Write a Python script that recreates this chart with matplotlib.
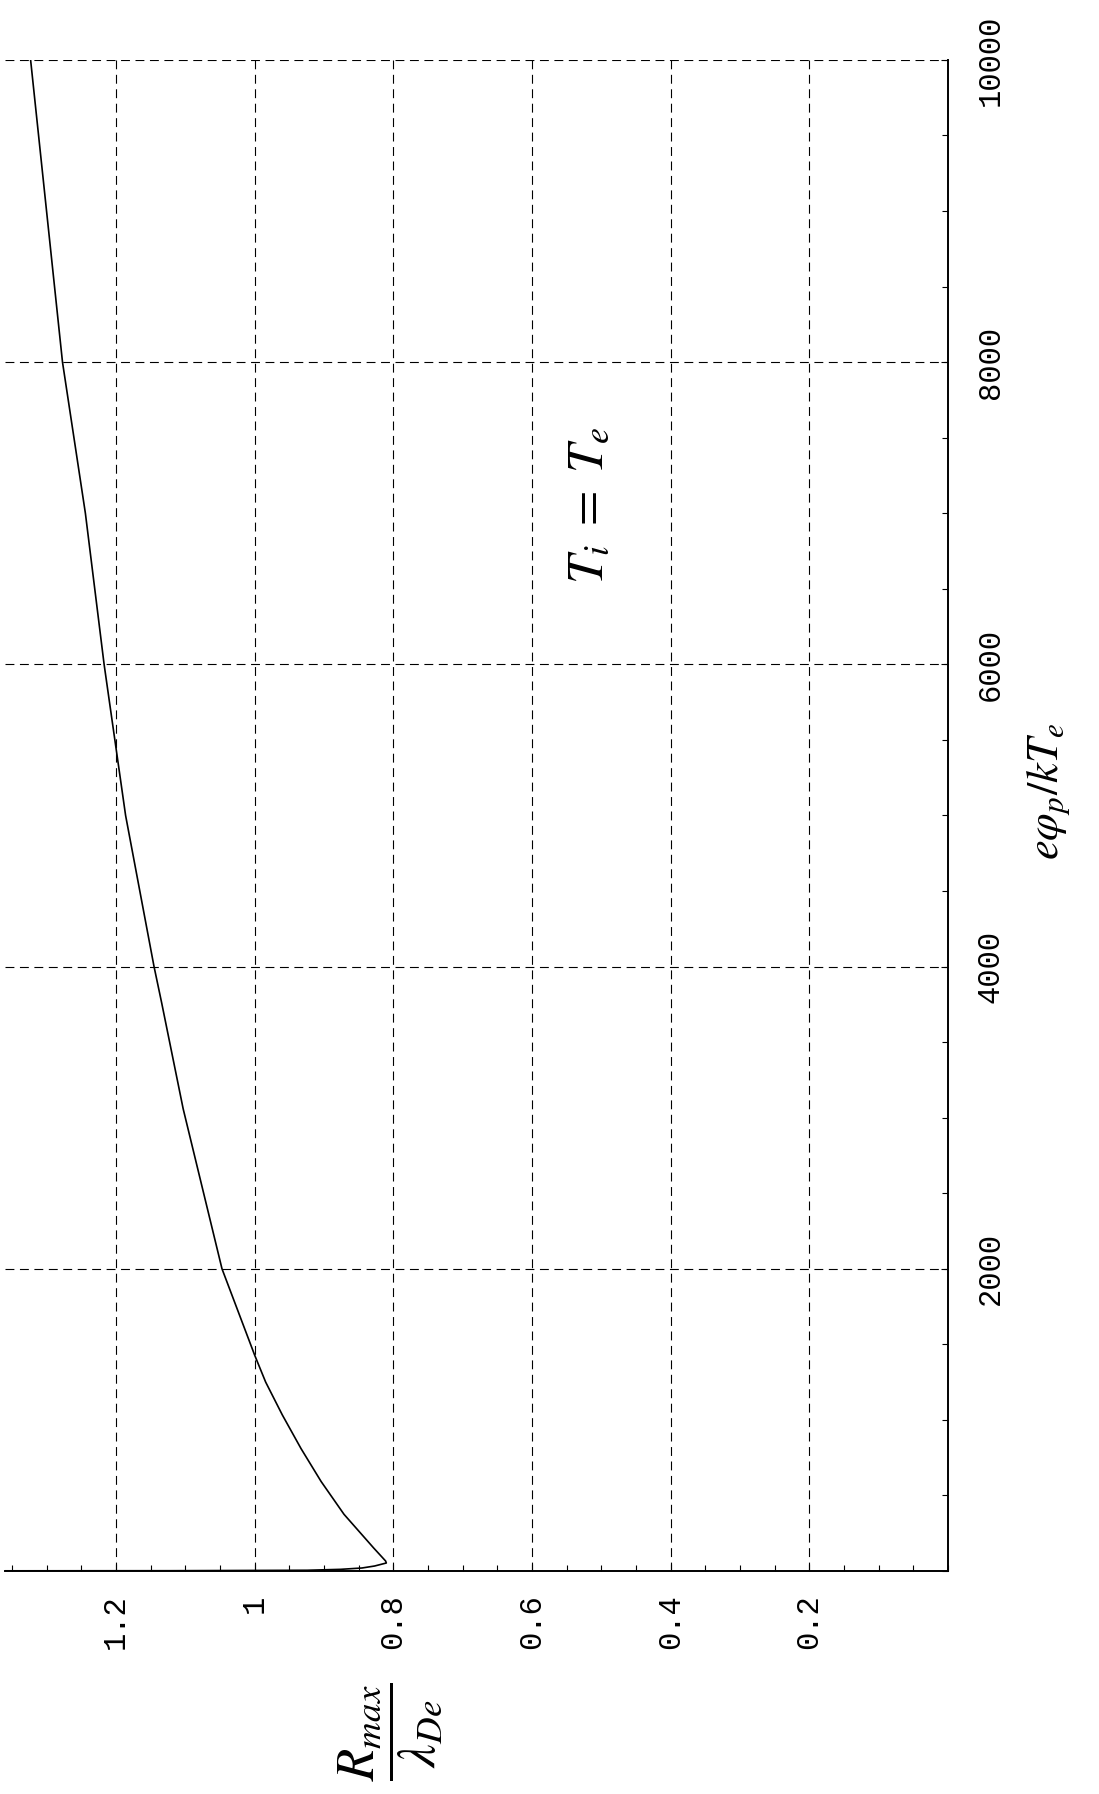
import matplotlib
matplotlib.use("Agg")
import matplotlib.pyplot as plt
from matplotlib.ticker import MultipleLocator, FixedLocator

plt.rcParams['mathtext.fontset'] = 'stix'

# Data: potential eΦ_p/kT_e (vertical axis in the rotated figure) and R_max/λ_De
ephi = [1, 2, 5, 11, 20, 33, 53, 66, 151, 375, 592, 810, 1033, 1250, 1430,
        2000, 2586, 3059, 3760, 4000, 5000, 6000, 7000, 8000, 9000, 10000]
rmax = [1.45, 1.12, 0.924, 0.876, 0.845, 0.827, 0.810, 0.811, 0.828, 0.871,
        0.904, 0.933, 0.960, 0.984, 1.000, 1.047, 1.078, 1.103, 1.134, 1.145,
        1.186, 1.217, 1.244, 1.277, 1.300, 1.323]

r_ticks = [0.2, 0.4, 0.6, 0.8, 1.0, 1.2]
r_ticklabels = ['0.2', '0.4', '0.6', '0.8', '1', '1.2']
phi_ticks = [2000, 4000, 6000, 8000, 10000]
phi_ticklabels = ['2000', '4000', '6000', '8000', '10000']

fig = plt.figure(figsize=(10.99, 17.94), dpi=100)
ax = fig.add_axes([0.0045, 0.1243, 0.8581, 0.8423])

ax.plot(rmax, ephi, color='black', lw=1.2, zorder=3)
ax.set_xlim(1.36, 0)
ax.set_ylim(0, 10000)

for s in ['top', 'left']:
    ax.spines[s].set_visible(False)
for s in ['right', 'bottom']:
    ax.spines[s].set_linewidth(1.4)

ax.xaxis.set_major_locator(FixedLocator(r_ticks))
ax.set_xticklabels(r_ticklabels)
ax.xaxis.set_minor_locator(MultipleLocator(0.05))
ax.yaxis.tick_right()
ax.yaxis.set_major_locator(FixedLocator(phi_ticks))
ax.set_yticklabels(phi_ticklabels)
ax.yaxis.set_minor_locator(MultipleLocator(500))

ax.tick_params(axis='x', which='both', direction='in', top=False, bottom=True,
               labelrotation=90, pad=17, labelsize=22, width=0.8)
ax.tick_params(axis='y', which='both', direction='in', left=False, right=True,
               labelleft=False, labelright=True, labelrotation=90, pad=20,
               labelsize=22, width=0.8)
ax.tick_params(which='major', length=5)
ax.tick_params(which='minor', length=4)
for lab in ax.get_xticklabels() + ax.get_yticklabels():
    lab.set_fontfamily('Liberation Mono')
for lab in ax.get_yticklabels():
    lab.set_verticalalignment('center')

ax.grid(True, which='major', color='black', lw=0.8, linestyle=(0, (8, 5)))

ax.text(0.518, 7050, r'$T_i\;=\;T_e$', rotation=90, fontsize=37,
        ha='center', va='center', transform=ax.transData)

fig.text(0.355, 0.035, r'$\dfrac{R_{max}}{\lambda_{De}}$', rotation=90,
         fontsize=38, ha='center', va='center')
fig.text(0.9545, 0.559, r'$e\varphi_p/kT_e$', rotation=90, fontsize=32,
         ha='center', va='center')

fig.savefig('out.png', dpi=100)
